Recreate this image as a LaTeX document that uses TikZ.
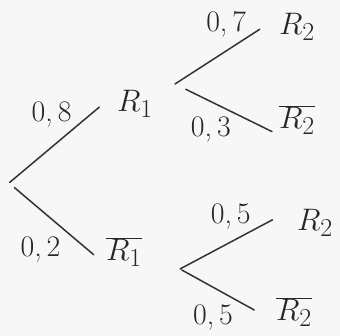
\documentclass[tikz,border=0pt]{standalone}
\begin{document}
\begin{tikzpicture}[x=1pt,y=1pt,thick]
    \tikzstyle{ev}=[inner sep=1pt, font=\Huge, scale=1.25, text=black!85]
    \tikzstyle{prob}=[inner sep=0pt, font=\Huge, scale=1.2, text=black!85]
    \tikzstyle{branch}=[draw=black!80, line width=1.5pt, line cap=round]
    \fill[black!3] (0,0) rectangle (340,336);
    \useasboundingbox (0,0) rectangle (340,336);
    % events
    \coordinate (root) at (9,153);
    \node[ev] (r1) at (135,232) {$R_1$};
    \node[ev] (r1bar) at (124,84) {$\overline{R_1}$};
    \node[ev] (r2a) at (297,309) {$R_2$};
    \node[ev] (r2b) at (297,216) {$\overline{R_2}$};
    \node[ev] (r2c) at (315,113) {$R_2$};
    \node[ev] (r2d) at (294,24) {$\overline{R_2}$};
    \coordinate (fork1) at (175,252);
    \coordinate (fork2) at (180,67);
    % first stage
    \draw[branch, shorten <=1pt, shorten >=21pt] (root) -- (r1.152)
        node[prob, pos=0.4, yshift=27pt] {0,\,8};
    \draw[branch, shorten <=7pt, shorten >=14pt] (root) -- (r1bar.211)
        node[prob, pos=0.33, yshift=-33pt] {0,\,2};
    % second stage
    \draw[branch, shorten >=21pt] (fork1) -- (r2a.155)
        node[prob, pos=0.5, yshift=22pt] {0,\,7};
    \draw[branch, shorten <=12pt, shorten >=6pt] (fork1) -- (r2b.216)
        node[prob, pos=0.35, yshift=-23pt] {0,\,3};
    \draw[branch, shorten >=26pt] (fork2) -- (r2c.north west)
        node[prob, pos=0.44, yshift=21pt] {0,\,5};
    \draw[branch, shorten <=2pt, shorten >=23pt] (fork2) -- (r2d.205)
        node[prob, pos=0.35, yshift=-25pt] {0,\,5};
\end{tikzpicture}
\end{document}
